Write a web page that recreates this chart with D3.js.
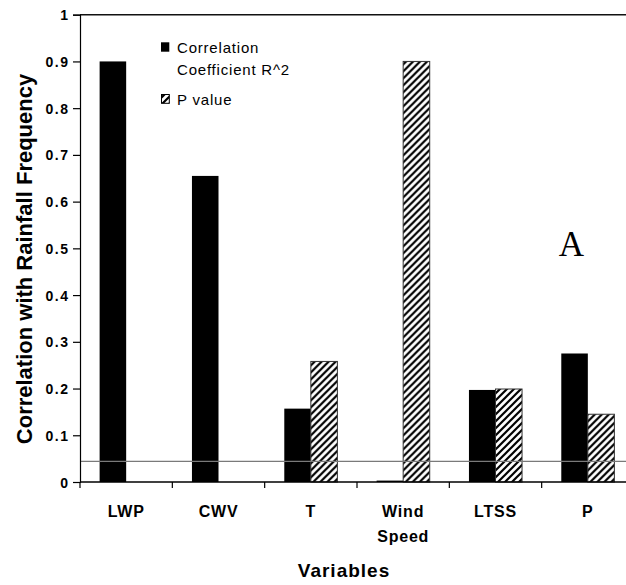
<!DOCTYPE html>
<html>
<head>
<meta charset="utf-8">
<script src="https://cdn.jsdelivr.net/npm/d3@7"></script>
<style>
  html, body { margin: 0; padding: 0; background: #fff; }
  svg { display: block; }
  text { font-family: "Liberation Sans", Arial, sans-serif; fill: #000; }
</style>
</head>
<body>
<svg id="chart" width="626" height="585"></svg>
<script>
const categories = ["LWP", "CWV", "T", "Wind Speed", "LTSS", "P"];
const seriesNames = ["Correlation Coefficient R^2", "P value"];
const r2Values = [0.90, 0.655, 0.157, 0.003, 0.197, 0.275];
const pValues = [0, 0, 0.258, 0.90, 0.199, 0.145];
const yTicks = [0, 0.1, 0.2, 0.3, 0.4, 0.5, 0.6, 0.7, 0.8, 0.9, 1];
const yTickLabels = ["0", "0.1", "0.2", "0.3", "0.4", "0.5", "0.6", "0.7", "0.8", "0.9", "1"];
const significanceLevel = 0.044;
const yTitle = "Correlation with Rainfall Frequency";
const xTitle = "Variables";
const panelLabel = "A";

(function () {
const svg = d3.select("#chart");
const pLeft = 80, pRight = 634, pTop = 14.7, pBottom = 482;

const defs = svg.append("defs");
const pat = defs.append("pattern")
  .attr("id", "hatch")
  .attr("patternUnits", "userSpaceOnUse")
  .attr("width", 7).attr("height", 7);
pat.append("rect").attr("width", 7).attr("height", 7).attr("fill", "#fff");
pat.append("path")
  .attr("d", "M-1,1 l2,-2 M0,7 l7,-7 M6,8 l2,-2")
  .attr("stroke", "#000").attr("stroke-width", 2.2);

const x0 = d3.scaleBand().domain(categories).range([pLeft, pRight])
  .paddingInner(0.425).paddingOuter(0.2125);
const x1 = d3.scaleBand().domain([0, 1]).range([0, x0.bandwidth()]);
const y = d3.scaleLinear().domain([0, 1]).range([pBottom, pTop]);

const data = categories.map((c, i) => ({ cat: c, vals: [r2Values[i], pValues[i]] }));

// bars
const groups = svg.append("g").selectAll("g").data(data).join("g")
  .attr("transform", d => `translate(${x0(d.cat)},0)`);
groups.selectAll("rect").data(d => d.vals.map((v, k) => ({ v, k })).filter(e => e.v > 0)).join("rect")
  .attr("x", d => x1(d.k))
  .attr("width", x1.bandwidth())
  .attr("y", d => y(d.v))
  .attr("height", d => y(0) - y(d.v))
  .attr("fill", d => d.k === 0 ? "#000" : "url(#hatch)")
  .attr("stroke", d => d.k === 0 ? "none" : "#333")
  .attr("stroke-width", 1);

// reference line
svg.append("line")
  .attr("x1", pLeft).attr("x2", pRight)
  .attr("y1", y(significanceLevel)).attr("y2", y(significanceLevel))
  .attr("stroke", "#7a7a7a").attr("stroke-width", 1.3);

// top line at 1
svg.append("line")
  .attr("x1", pLeft).attr("x2", pRight)
  .attr("y1", y(1)).attr("y2", y(1))
  .attr("stroke", "#111").attr("stroke-width", 1.6);

// y axis
const yAxis = d3.axisLeft(y).tickValues(yTicks)
  .tickFormat((d, i) => yTickLabels[i]).tickSize(7).tickPadding(4);
const yg = svg.append("g").attr("transform", `translate(${pLeft},0)`).call(yAxis);
yg.select(".domain").attr("stroke", "#000").attr("stroke-width", 1.2);
yg.selectAll(".tick line").attr("stroke", "#000").attr("stroke-width", 1.2);
yg.selectAll(".tick text")
  .style("font-family", "'Liberation Sans', Arial, sans-serif")
  .style("font-size", "14px").style("font-weight", "bold")
  .style("letter-spacing", "1.5px")
  .attr("x", -10.5).attr("dy", "0.36em");

// x axis
const xTickScale = d3.scalePoint().domain(d3.range(7)).range([pLeft, pRight]);
const xg = svg.append("g").attr("transform", `translate(0,${pBottom})`);
xg.append("line").attr("x1", pLeft).attr("x2", pRight).attr("y1", 0).attr("y2", 0)
  .attr("stroke", "#000").attr("stroke-width", 1.4);
xg.selectAll("line.tk").data(d3.range(7)).join("line").attr("class", "tk")
  .attr("x1", d => xTickScale(d)).attr("x2", d => xTickScale(d))
  .attr("y1", 0).attr("y2", 6).attr("stroke", "#000").attr("stroke-width", 1.2);
const xl = xg.selectAll("text.lbl").data(categories).join("text").attr("class", "lbl")
  .attr("text-anchor", "middle")
  .style("font-size", "16px").style("font-weight", "bold").style("letter-spacing", "0.8px")
  .attr("transform", d => `translate(${x0(d) + x0.bandwidth() / 2},34.7)`);
xl.each(function (d) {
  const words = d.split(" ");
  d3.select(this).selectAll("tspan").data(words).join("tspan")
    .attr("x", 0).attr("y", (w, i) => i * 25).text(w => w);
});

// titles
svg.append("text")
  .attr("transform", `translate(32,${(73 + 445) / 2}) rotate(-90)`)
  .attr("text-anchor", "middle")
  .style("font-size", "22px").style("font-weight", "bold")
  .text(yTitle);
svg.append("text")
  .attr("x", 344).attr("y", 577)
  .attr("text-anchor", "middle")
  .style("font-size", "19px").style("font-weight", "bold").style("letter-spacing", "1px")
  .text(xTitle);

// legend
const leg = svg.append("g");
leg.append("rect").attr("x", 161).attr("y", 42.3).attr("width", 8.3).attr("height", 9.4).attr("fill", "#000");
leg.append("text").attr("x", 177).attr("y", 53.3)
  .style("font-size", "15px").style("letter-spacing", "0.8px")
  .text(seriesNames[0].split(" ")[0]);
leg.append("text").attr("x", 177).attr("y", 75)
  .style("font-size", "15px").style("letter-spacing", "0.8px")
  .text(seriesNames[0].split(" ").slice(1).join(" "));
leg.append("rect").attr("x", 161.5).attr("y", 94.5).attr("width", 7.8).attr("height", 8.8)
  .attr("fill", "url(#hatch)").attr("stroke", "#000").attr("stroke-width", 1);
leg.append("text").attr("x", 177).attr("y", 104.5)
  .style("font-size", "15px").style("letter-spacing", "0.8px")
  .text(seriesNames[1]);

// panel label
svg.append("text")
  .attr("x", 571.5).attr("y", 256)
  .attr("text-anchor", "middle")
  .style("font-family", "'Liberation Serif', 'Times New Roman', serif")
  .style("font-size", "35px")
  .text(panelLabel);
})();
</script>
</body>
</html>
